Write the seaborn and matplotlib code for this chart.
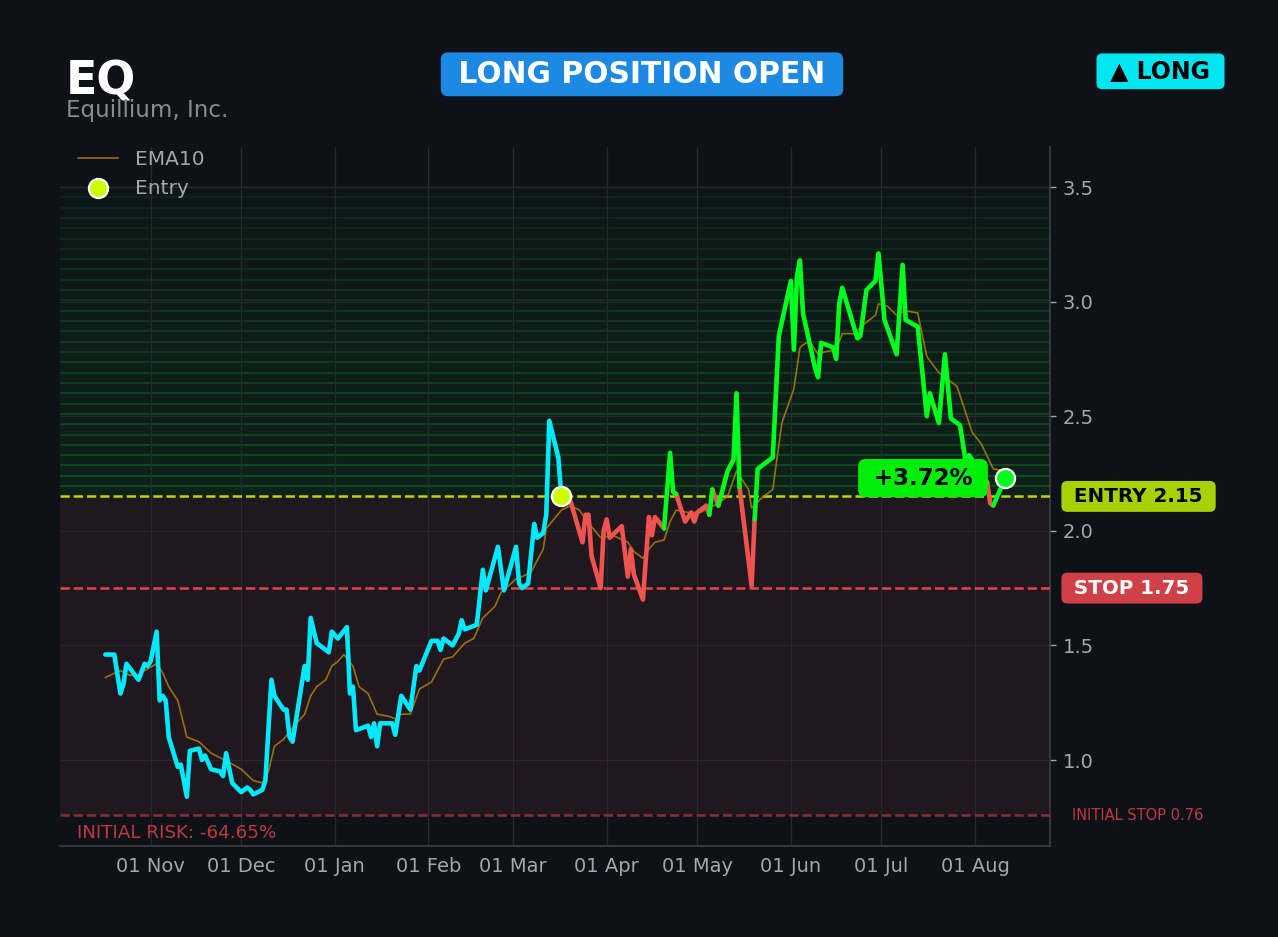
import numpy as np
import pandas as pd
import matplotlib
matplotlib.use("Agg")
import matplotlib.pyplot as plt
import matplotlib.dates as mdates
from matplotlib.ticker import MultipleLocator
import seaborn as sns

# ---------------- data ----------------
ticker = "EQ"
company = "Equillium, Inc."
entry_price = 2.15
stop_price = 1.75
initial_stop = 0.76
entry_date = "2025-03-17"
zone_top = 3.5

price_dates = [
    "2024-10-17", "2024-10-20", "2024-10-22", "2024-10-23", "2024-10-24", "2024-10-28",
    "2024-10-30", "2024-10-31", "2024-11-01", "2024-11-03", "2024-11-04", "2024-11-05",
    "2024-11-06", "2024-11-07", "2024-11-10", "2024-11-11", "2024-11-13", "2024-11-14",
    "2024-11-17", "2024-11-18", "2024-11-19", "2024-11-21", "2024-11-24", "2024-11-25",
    "2024-11-26", "2024-11-28", "2024-12-01", "2024-12-03", "2024-12-04", "2024-12-05",
    "2024-12-08", "2024-12-09", "2024-12-11", "2024-12-12", "2024-12-15", "2024-12-16",
    "2024-12-17", "2024-12-18", "2024-12-22", "2024-12-23", "2024-12-24", "2024-12-26",
    "2024-12-30", "2024-12-31", "2025-01-02", "2025-01-05", "2025-01-06", "2025-01-07",
    "2025-01-08", "2025-01-12", "2025-01-13", "2025-01-14", "2025-01-15", "2025-01-16",
    "2025-01-20", "2025-01-21", "2025-01-23", "2025-01-26", "2025-01-28", "2025-01-29",
    "2025-02-02", "2025-02-04", "2025-02-05", "2025-02-06", "2025-02-09", "2025-02-11",
    "2025-02-12", "2025-02-13", "2025-02-17", "2025-02-19", "2025-02-20", "2025-02-24",
    "2025-02-26", "2025-03-02", "2025-03-03", "2025-03-04", "2025-03-06", "2025-03-08",
    "2025-03-09", "2025-03-11", "2025-03-12", "2025-03-13", "2025-03-16", "2025-03-17",
    "2025-03-20", "2025-03-24", "2025-03-25", "2025-03-26", "2025-03-27", "2025-03-30",
    "2025-03-31", "2025-04-01", "2025-04-02", "2025-04-06", "2025-04-08", "2025-04-09",
    "2025-04-10", "2025-04-13", "2025-04-15", "2025-04-16", "2025-04-17", "2025-04-20",
    "2025-04-22", "2025-04-23", "2025-04-24", "2025-04-27", "2025-04-29", "2025-04-30",
    "2025-05-01", "2025-05-04", "2025-05-05", "2025-05-06", "2025-05-08", "2025-05-11",
    "2025-05-13", "2025-05-14", "2025-05-15", "2025-05-19", "2025-05-20", "2025-05-21",
    "2025-05-26", "2025-05-28", "2025-06-01", "2025-06-02", "2025-06-03", "2025-06-04",
    "2025-06-05", "2025-06-09", "2025-06-10", "2025-06-11", "2025-06-15", "2025-06-16",
    "2025-06-17", "2025-06-18", "2025-06-23", "2025-06-24", "2025-06-26", "2025-06-29",
    "2025-06-30", "2025-07-02", "2025-07-06", "2025-07-08", "2025-07-09", "2025-07-13",
    "2025-07-16", "2025-07-17", "2025-07-20", "2025-07-22", "2025-07-24", "2025-07-27",
    "2025-07-29", "2025-07-30", "2025-08-05", "2025-08-06", "2025-08-07", "2025-08-11",
]
price_values = [
    1.46, 1.46, 1.29, 1.33, 1.42, 1.35,
    1.42, 1.41, 1.43, 1.56, 1.26, 1.28,
    1.26, 1.10, 0.97, 0.98, 0.84, 1.04,
    1.05, 1.00, 1.02, 0.96, 0.95, 0.93,
    1.03, 0.90, 0.86, 0.88, 0.87, 0.85,
    0.87, 0.91, 1.35, 1.28, 1.22, 1.22,
    1.10, 1.08, 1.41, 1.35, 1.62, 1.51,
    1.47, 1.56, 1.53, 1.58, 1.29, 1.32,
    1.13, 1.15, 1.10, 1.16, 1.06, 1.16,
    1.16, 1.11, 1.28, 1.22, 1.41, 1.39,
    1.52, 1.52, 1.48, 1.53, 1.50, 1.55,
    1.61, 1.57, 1.59, 1.83, 1.74, 1.93,
    1.74, 1.93, 1.77, 1.75, 1.77, 2.03,
    1.97, 1.99, 2.07, 2.48, 2.32, 2.15,
    2.13, 1.95, 2.07, 2.07, 1.89, 1.75,
    2.00, 2.05, 1.97, 2.02, 1.80, 1.92,
    1.81, 1.70, 2.06, 1.98, 2.06, 2.01,
    2.34, 2.17, 2.16, 2.04, 2.08, 2.04,
    2.08, 2.11, 2.07, 2.18, 2.11, 2.26,
    2.31, 2.60, 2.19, 1.76, 2.05, 2.27,
    2.32, 2.85, 3.09, 2.79, 3.11, 3.18,
    2.95, 2.71, 2.67, 2.82, 2.80, 2.75,
    2.99, 3.06, 2.84, 2.85, 3.05, 3.09,
    3.21, 2.92, 2.77, 3.16, 2.92, 2.89,
    2.50, 2.60, 2.47, 2.77, 2.49, 2.46,
    2.29, 2.33, 2.21, 2.12, 2.11, 2.23,
]

ema_dates = [
    "2024-10-17", "2024-10-22", "2024-10-25", "2024-10-28", "2024-10-30", "2024-11-03",
    "2024-11-05", "2024-11-07", "2024-11-10", "2024-11-13", "2024-11-17", "2024-11-21",
    "2024-11-24", "2024-11-27", "2024-12-01", "2024-12-05", "2024-12-08", "2024-12-10",
    "2024-12-12", "2024-12-15", "2024-12-18", "2024-12-22", "2024-12-24", "2024-12-26",
    "2024-12-29", "2024-12-31", "2025-01-02", "2025-01-04", "2025-01-07", "2025-01-09",
    "2025-01-12", "2025-01-15", "2025-01-19", "2025-01-21", "2025-01-23", "2025-01-26",
    "2025-01-29", "2025-02-02", "2025-02-06", "2025-02-09", "2025-02-13", "2025-02-16",
    "2025-02-19", "2025-02-23", "2025-02-25", "2025-03-02", "2025-03-04", "2025-03-07",
    "2025-03-09", "2025-03-11", "2025-03-12", "2025-03-17", "2025-03-20", "2025-03-23",
    "2025-03-25", "2025-03-30", "2025-04-03", "2025-04-08", "2025-04-10", "2025-04-13",
    "2025-04-15", "2025-04-17", "2025-04-20", "2025-04-22", "2025-04-24", "2025-04-28",
    "2025-05-02", "2025-05-08", "2025-05-11", "2025-05-14", "2025-05-16", "2025-05-18",
    "2025-05-19", "2025-05-20", "2025-05-22", "2025-05-26", "2025-05-29", "2025-06-02",
    "2025-06-04", "2025-06-06", "2025-06-08", "2025-06-10", "2025-06-12", "2025-06-16",
    "2025-06-18", "2025-06-22", "2025-06-26", "2025-06-29", "2025-06-30", "2025-07-03",
    "2025-07-06", "2025-07-09", "2025-07-13", "2025-07-16", "2025-07-20", "2025-07-26",
    "2025-07-31", "2025-08-03", "2025-08-07", "2025-08-11",
]
ema_values = [
    1.36, 1.39, 1.37, 1.37, 1.39, 1.42,
    1.38, 1.32, 1.26, 1.10, 1.08, 1.03,
    1.01, 0.99, 0.96, 0.91, 0.90, 0.95,
    1.06, 1.09, 1.14, 1.20, 1.28, 1.32,
    1.35, 1.41, 1.43, 1.46, 1.41, 1.32,
    1.29, 1.20, 1.19, 1.18, 1.20, 1.20,
    1.31, 1.34, 1.44, 1.45, 1.51, 1.53,
    1.62, 1.67, 1.73, 1.79, 1.80, 1.82,
    1.87, 1.92, 2.01, 2.09, 2.11, 2.09,
    2.05, 1.97, 1.98, 1.95, 1.91, 1.88,
    1.92, 1.95, 1.96, 2.04, 2.09, 2.08,
    2.08, 2.12, 2.15, 2.26, 2.22, 2.18,
    2.10, 2.11, 2.14, 2.18, 2.47, 2.62,
    2.80, 2.82, 2.81, 2.77, 2.78, 2.79,
    2.86, 2.86, 2.91, 2.94, 2.99, 2.98,
    2.94, 2.96, 2.95, 2.76, 2.69, 2.63,
    2.43, 2.38, 2.27, 2.26,
]

# ---------------- style ----------------
BG = "#0e1117"
TXT = "#a6a6a6"
sns.set_theme(style="dark", rc={
    "axes.facecolor": BG, "figure.facecolor": BG,
    "axes.edgecolor": "#3a3d44", "grid.color": "#262930",
    "xtick.color": TXT, "ytick.color": TXT, "text.color": TXT,
    "axes.labelcolor": TXT,
})
plt.rcParams["font.family"] = ["DejaVu Sans"]

fig = plt.figure(figsize=(12.78, 9.372), dpi=100)
ax = fig.add_axes([60 / 1278, 1 - 846 / 937, 990 / 1278, 699 / 937])

# zones
ax.axhspan(initial_stop, entry_price, color="#21171e", lw=0, zorder=0.1)
n_bands = 30
edges = np.linspace(entry_price, zone_top, n_bands + 1)
for k in range(n_bands):
    frac = 1 - k / n_bands
    ax.axhspan(edges[k], edges[k + 1], color="#00ff33", alpha=0.022 + 0.05 * frac, lw=0, zorder=0.1)
    ax.axhline(edges[k + 1], color="#22ff44", alpha=0.06 + 0.14 * frac, lw=1.3, zorder=0.15)

# level lines
ax.axhline(entry_price, color="#ccff00", alpha=0.85, ls="--", lw=1.8, zorder=3)
ax.axhline(stop_price, color="#e04848", ls="--", lw=1.8, zorder=3)
ax.axhline(initial_stop, color="#8a2e36", ls="--", lw=1.8, zorder=3)

# EMA
ema_df = pd.DataFrame({"date": pd.to_datetime(ema_dates), "ema": ema_values})
sns.lineplot(data=ema_df, x="date", y="ema", color="#b8860b", alpha=0.8, lw=1.2,
             label="EMA10", ax=ax, zorder=4)

# price segments coloured by phase
pdates = pd.to_datetime(price_dates)
entry_ts = pd.Timestamp(entry_date)
entry_idx = list(pdates).index(entry_ts)
rows = []
run = -1
prev = None
for i in range(1, len(pdates)):
    if i <= entry_idx:
        ph = "pre"
    elif price_values[i] >= entry_price:
        ph = "win"
    else:
        ph = "loss"
    if ph != prev:
        run += 1
        rows.append((pdates[i - 1], price_values[i - 1], ph, run))
        prev = ph
    rows.append((pdates[i], price_values[i], ph, run))
seg = pd.DataFrame(rows, columns=["date", "price", "phase", "run"])
sns.lineplot(data=seg, x="date", y="price", hue="phase", units="run", estimator=None,
             sort=False, palette={"pre": "#00eaff", "win": "#00ff1e", "loss": "#ef5350"},
             lw=3.3, legend=False, ax=ax, zorder=5,
             solid_capstyle="round", solid_joinstyle="round")

# dots
sns.scatterplot(x=[entry_ts], y=[entry_price], s=190, color="#ccff00", edgecolor="white",
                linewidth=1.6, label="Entry", ax=ax, zorder=7)
last_date = pdates[-1]
last_val = price_values[-1]
sns.scatterplot(x=[last_date], y=[last_val], s=190, color="#00ff1e", edgecolor="white",
                linewidth=1.6, ax=ax, zorder=7)

# axes formatting
ax.set_xlim(pd.Timestamp("2024-10-02"), pd.Timestamp("2025-08-25 19:00"))
ax.set_ylim(0.625, 3.675)
ax.yaxis.tick_right()
ax.yaxis.set_major_locator(MultipleLocator(0.5))
ax.xaxis.set_major_locator(mdates.MonthLocator(bymonthday=1))
ax.xaxis.set_major_formatter(mdates.DateFormatter("%d %b"))
ax.tick_params(axis="both", labelsize=14, length=4, width=1, colors=TXT)
ax.tick_params(axis="y", pad=5)
ax.set_xlabel("")
ax.set_ylabel("")
ax.grid(True, color="#262930", lw=0.9)
ax.set_axisbelow(True)
for s in ["top", "left"]:
    ax.spines[s].set_visible(False)
for s in ["right", "bottom"]:
    ax.spines[s].set_color("#3a3d44")

leg = ax.legend(loc="upper left", bbox_to_anchor=(0.0, 1.022), frameon=False,
                fontsize=14.5, labelcolor=TXT, labelspacing=0.5)

# right side labels
ax.annotate(f" ENTRY {entry_price:.2f} ", xy=(1, entry_price), xycoords=("axes fraction", "data"),
            xytext=(12.5, 0), textcoords="offset points", ha="left", va="center",
            fontsize=14.3, weight="bold", color="black", annotation_clip=False,
            bbox=dict(boxstyle="round,pad=0.3", fc="#a6d102", ec="none"))
ax.annotate(f" STOP {stop_price:.2f} ", xy=(1, stop_price), xycoords=("axes fraction", "data"),
            xytext=(12.5, 0), textcoords="offset points", ha="left", va="center",
            fontsize=14.3, weight="bold", color="white", annotation_clip=False,
            bbox=dict(boxstyle="round,pad=0.3", fc="#cf4146", ec="none"))
ax.annotate(f"INITIAL STOP {initial_stop:.2f}", xy=(1, initial_stop),
            xycoords=("axes fraction", "data"), xytext=(16, 0), textcoords="offset points",
            ha="left", va="center", fontsize=10.5, color="#bf3a40", annotation_clip=False)

risk = (initial_stop / entry_price - 1) * 100
ax.text(17 / 990, 8 / 699, f"INITIAL RISK: {risk:.2f}%", transform=ax.transAxes,
        ha="left", va="baseline", fontsize=13.2, color="#bf3a40", zorder=8)

pnl = (last_val / entry_price - 1) * 100
ax.annotate(f" {pnl:+.2f}% ", xy=(last_date, last_val), xytext=(-18, 0),
            textcoords="offset points", ha="right", va="center", fontsize=16.5,
            weight="bold", color="black", zorder=10,
            bbox=dict(boxstyle="round,pad=0.33", fc="#00ee0a", ec="none"))

# header
fig.text(66 / 1278, 1 - 94 / 937, ticker, fontsize=33, weight="bold", color="white",
         ha="left", va="baseline")
fig.text(66 / 1278, 1 - 117 / 937, company, fontsize=16.6, color="#8a8a8a",
         ha="left", va="baseline")
fig.text(642 / 1278, 1 - 74.5 / 937, " LONG POSITION OPEN ", fontsize=21.4, weight="bold",
         color="white", ha="center", va="center",
         bbox=dict(boxstyle="round,pad=0.25", fc="#1e88e5", ec="none"))
fig.text(1160.5 / 1278, 1 - 71.5 / 937, " \u25B2 LONG ", fontsize=17, weight="bold",
         color="black", ha="center", va="center",
         bbox=dict(boxstyle="round,pad=0.25", fc="#00e5f0", ec="none"))

fig.savefig("out.png", dpi=100, facecolor=BG)
